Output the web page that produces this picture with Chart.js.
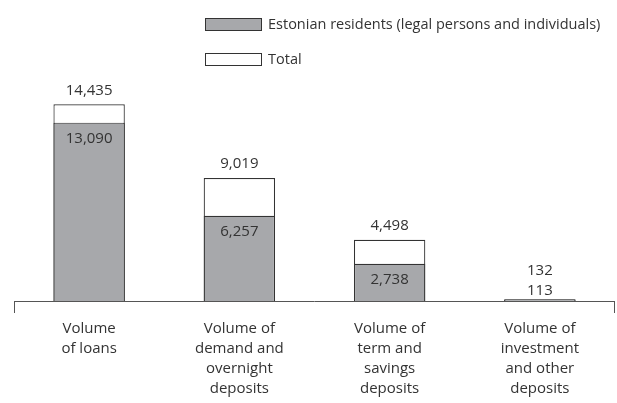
<!DOCTYPE html>
<html>
<head>
<meta charset="utf-8">
<script src="https://cdn.jsdelivr.net/npm/chart.js"></script>
<style>
  html, body { margin: 0; padding: 0; background: #fff; overflow: hidden; }
  #wrap { width: 617px; height: 403px; }
</style>
</head>
<body>
<div id="wrap"><canvas id="myChart"></canvas></div>
<script>
    // data
    const categories = [
        ['Volume', 'of loans'],
        ['Volume of', 'demand and', 'overnight', 'deposits'],
        ['Volume of', 'term and', 'savings', 'deposits'],
        ['Volume of', 'investment', 'and other', 'deposits']
    ];
    const residents = [13090, 6257, 2738, 113];
    const total = [14435, 9019, 4498, 132];
    const seriesNames = ['Estonian residents (legal persons and individuals)', 'Total'];

    const FONT = '"Open Sans", sans-serif';
    const TXT = '#333';

    // legend stacked top right
    const legendPlugin = {
        id: 'myLegend',
        afterDraw(chart) {
            const c = chart.ctx;
            c.save();
            chart.data.datasets.forEach(function(ds, i) {
                const y = 18 + i * 35;
                c.fillStyle = ds.backgroundColor;
                c.fillRect(205.5, y + 0.5, 56, 12);
                c.strokeStyle = '#333';
                c.lineWidth = 1;
                c.strokeRect(205.5, y + 0.5, 56, 12);
                c.fillStyle = TXT;
                c.font = '14.5px ' + FONT;
                c.textBaseline = 'middle';
                c.textAlign = 'left';
                c.fillText(ds.label, 268, y + 7);
            });
            c.restore();
        }
    };

    // value labels + end ticks of the axis
    const labelPlugin = {
        id: 'valLabels',
        afterDatasetsDraw(chart) {
            const c = chart.ctx;
            const a = chart.chartArea;
            c.save();
            c.strokeStyle = '#555';
            c.lineWidth = 1;
            c.beginPath();
            c.moveTo(a.left, a.bottom + 0.5); c.lineTo(a.right, a.bottom + 0.5);
            c.moveTo(a.left + 0.5, a.bottom); c.lineTo(a.left + 0.5, a.bottom + 12);
            c.moveTo(a.right - 0.5, a.bottom); c.lineTo(a.right - 0.5, a.bottom + 12);
            c.stroke();

            c.font = '15px ' + FONT;
            c.fillStyle = TXT;
            c.textAlign = 'center';
            c.textBaseline = 'middle';
            const resMeta = chart.getDatasetMeta(0);
            const totMeta = chart.getDatasetMeta(1);
            resMeta.data.forEach(function(bar, i) {
                const tot = totMeta.data[i];
                const h = bar.base - bar.y;
                if (h > 30) {
                    c.fillText(residents[i].toLocaleString('en-US'), bar.x, bar.y + 16);
                    c.fillText(total[i].toLocaleString('en-US'), tot.x, tot.y - 14);
                } else {
                    c.fillText(residents[i].toLocaleString('en-US'), bar.x, bar.y - 9);
                    c.fillText(total[i].toLocaleString('en-US'), tot.x, bar.y - 29);
                }
            });
            c.restore();
        }
    };

    const ctx = document.getElementById('myChart');
    const myChart = new Chart(ctx, {
        type: 'bar',
        data: {
            labels: categories,
            datasets: [{
                label: seriesNames[0],
                data: residents,
                backgroundColor: '#a7a8ab',
                borderColor: '#333',
                borderWidth: 1.2
            }, {
                label: seriesNames[1],
                data: total,
                backgroundColor: '#ffffff',
                borderColor: '#333',
                borderWidth: 1.2
            }]
        },
        options: {
            responsive: true,
            maintainAspectRatio: false,
            animation: false,
            layout: { padding: { top: 83, left: 14, right: 2, bottom: 0 } },
            datasets: {
                bar: { grouped: false, categoryPercentage: 1, barPercentage: 0.475 }
            },
            plugins: {
                legend: { display: false },
                tooltip: { enabled: false }
            },
            scales: {
                x: {
                    border: { display: false },
                    grid: { display: false },
                    afterFit(scale) { scale.height = 102; },
                    ticks: {
                        color: TXT,
                        padding: 10,
                        maxRotation: 0,
                        autoSkip: false,
                        font: { family: '"Open Sans", sans-serif', size: 15, lineHeight: 1.33 }
                    }
                },
                y: {
                    display: false,
                    min: 0,
                    max: 16000
                }
            }
        },
        plugins: [legendPlugin, labelPlugin]
    });
</script>
</body>
</html>
